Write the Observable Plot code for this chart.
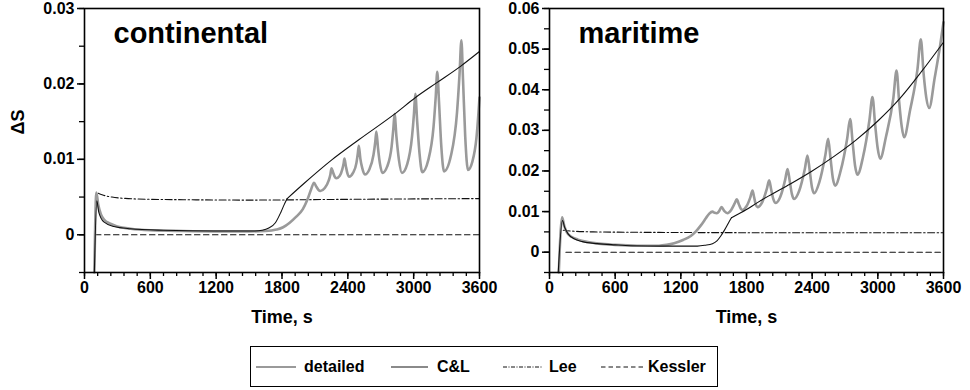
<!DOCTYPE html>
<html>
<head>
<meta charset="utf-8">
<script src="https://cdn.jsdelivr.net/npm/d3@7"></script>
<script src="https://cdn.jsdelivr.net/npm/@observablehq/plot@0.6"></script>
<style>
  body { margin: 0; background: #fff; font-family: "Liberation Sans", Arial, sans-serif; }
  #wrap { position: relative; width: 970px; height: 390px; background: #fff; overflow: hidden; }
  .panel { position: absolute; top: 0; }
  #legend { position: absolute; left: 250px; top: 346px; width: 468px; height: 41px; border: 1px solid #000; box-sizing: border-box; }
  .li { position: absolute; top: 0; height: 39px; }
  .lt { position: absolute; top: 10px; font-size: 16px; font-weight: bold; line-height: 20px; white-space: nowrap; color: #000; }
</style>
</head>
<body>
<div id="wrap">
  <div id="left" class="panel" style="left:0px"></div>
  <div id="right" class="panel" style="left:485px"></div>
  <div id="legend"></div>
</div>
<script>
// ---------- DATA ----------
const xTicks = [0, 600, 1200, 1800, 2400, 3000, 3600];
const yTicksCont = [0, 0.01, 0.02, 0.03];
const yTicksMar = [0, 0.01, 0.02, 0.03, 0.04, 0.05, 0.06];
const panelTitles = ["continental", "maritime"];
const legendLabels = ["detailed", "C&L", "Lee", "Kessler"];

// continental: detailed
const contDetT = [90,108,125,150,180,230,300,420,600,900,1200,1500,1650,1750,1810,1870,1930,1990,2030,2065,2092,2112,2130,2150,2190,2226,2241,2251,2265,2280,2295,2325,2350,2362,2369,2382,2397,2412,2447,2478,2491,2500,2514,2532,2555,2597,2634,2650,2660,2675,2693,2715,2760,2799,2815,2826,2843,2865,2893,2942,2985,3003,3015,3032,3054,3078,3133,3181,3201,3215,3231,3252,3277,3340,3395,3418,3435,3450,3470,3495,3535,3572,3600];
const contDetV = [-0.005,0.0056,0.0040,0.0027,0.0020,0.0015,0.0011,0.0008,0.0006,0.0005,0.00045,0.00045,0.0005,0.0007,0.0010,0.0016,0.0024,0.0034,0.0046,0.0060,0.0069,0.0064,0.0060,0.0058,0.0062,0.0072,0.0080,0.0088,0.0083,0.0077,0.0075,0.0078,0.0087,0.0095,0.0101,0.0091,0.0081,0.0077,0.0082,0.0095,0.0108,0.0118,0.0101,0.0088,0.0080,0.0087,0.0106,0.0123,0.0137,0.0115,0.0094,0.0082,0.0091,0.0117,0.0141,0.0160,0.0130,0.0100,0.0082,0.0094,0.0130,0.0161,0.0187,0.0150,0.0107,0.0083,0.0099,0.0143,0.0183,0.0216,0.0176,0.0117,0.0084,0.0105,0.0162,0.0213,0.0258,0.0205,0.0130,0.0086,0.0097,0.0128,0.0182];
// continental: C&L (kink at 1847 s)
const contClT = [90,112,130,176,267,419,720,1177,1550,1620,1680,1740,1790,1820,1847,2000,2251,2500,2825,3017,3215,3433,3600];
const contClV = [-0.005,0.0045,0.0030,0.0017,0.0011,0.0008,0.0006,0.0005,0.0005,0.0006,0.0009,0.0016,0.0030,0.0040,0.0048,0.0068,0.0099,0.0126,0.0160,0.0182,0.0202,0.0224,0.0243];
const contClKink = 1847;
// continental: Lee
const contLeeT = [125,160,250,400,600,900,1500,2400,3600];
const contLeeV = [0.0055,0.0053,0.0050,0.0048,0.0047,0.00465,0.0046,0.0047,0.0048];
// continental: Kessler
const contKesT = [100,3600];
const contKesV = [0,0];

// maritime: detailed
const marDetT = [85,115,135,160,200,260,350,450,600,800,1000,1070,1139,1220,1291,1340,1383,1430,1460,1489,1508,1529,1550,1572,1598,1626,1660,1692,1711,1730,1748,1764,1800,1835,1855,1870,1885,1900,1945,1985,2007,2025,2046,2068,2110,2153,2175,2195,2215,2235,2280,2333,2357,2378,2398,2418,2465,2521,2546,2568,2589,2610,2660,2720,2747,2770,2792,2814,2865,2923,2951,2975,2998,3021,3075,3142,3171,3195,3218,3240,3295,3362,3393,3418,3443,3469,3520,3570,3600];
const marDetV = [-0.005,0.0086,0.0065,0.0048,0.0038,0.0031,0.0025,0.0021,0.0018,0.0016,0.0016,0.0018,0.0022,0.0030,0.0040,0.0052,0.0066,0.0084,0.0095,0.0100,0.0097,0.0096,0.0101,0.0111,0.0101,0.0096,0.0104,0.0120,0.0130,0.0118,0.0107,0.0104,0.0113,0.0135,0.0152,0.0135,0.0117,0.0111,0.0124,0.0155,0.0177,0.0155,0.0130,0.0121,0.0137,0.0178,0.0205,0.0175,0.0143,0.0131,0.0150,0.0205,0.0238,0.0200,0.0160,0.0145,0.0172,0.0240,0.0279,0.0230,0.0182,0.0164,0.0200,0.0280,0.0328,0.0270,0.0213,0.0191,0.0235,0.0325,0.0382,0.0315,0.0257,0.0230,0.0285,0.0380,0.0447,0.0370,0.0310,0.0283,0.0350,0.0450,0.0524,0.0440,0.0380,0.0355,0.0430,0.0510,0.0566];
// maritime: C&L (kink at 1663 s)
const marClT = [80,118,140,170,225,300,438,600,743,1047,1352,1420,1489,1530,1565,1600,1635,1663,1800,1900,2000,2200,2400,2600,2800,3000,3200,3400,3600];
const marClV = [-0.005,0.0078,0.0060,0.0045,0.0033,0.0026,0.0021,0.0018,0.0016,0.0015,0.0015,0.0017,0.0021,0.0028,0.0040,0.0055,0.0072,0.0085,0.0105,0.0122,0.0138,0.0168,0.0200,0.0236,0.0276,0.0323,0.0378,0.0445,0.0517];
const marClKink = 1663;
// maritime: Lee
const marLeeT = [125,200,400,800,2000,3600];
const marLeeV = [0.0054,0.0052,0.0050,0.0049,0.0048,0.0048];
// maritime: Kessler
const marKesT = [150,3600];
const marKesV = [0,0];

// ---------- STYLES ----------
const GRAY = "#9a9a9a";
const BLACK = "#111";
const LEE_DASH = "7,2.5,1.5,2.5";
const KES_DASH = "5.5,3.5";

const zip = (ts, vs) => ts.map((t, i) => ({t, v: vs[i]}));
// split a series into two pieces that share the kink point, so the kink stays sharp
const splitAt = (rows, k) => [
  ...rows.filter(d => d.t <= k).map(d => ({...d, seg: 0})),
  ...rows.filter(d => d.t >= k).map(d => ({...d, seg: 1}))
];
const fmt = d => d === 0 ? "0" : d3.format(".2f")(d);

function panel({det, cl, lee, kes, yDomain, yTicks, title, width, marginLeft, marginRight, yLabel}) {
  const minorY = d3.ticks(yDomain[0], yDomain[1], Math.round((yDomain[1] - yDomain[0]) / 0.005));
  const minorX = d3.range(0, 3601, 120);
  const marks = [
    Plot.line(kes, {x: "t", y: "v", stroke: BLACK, strokeWidth: 1.1, strokeDasharray: KES_DASH}),
    Plot.line(lee, {x: "t", y: "v", stroke: BLACK, strokeWidth: 1.1, strokeDasharray: LEE_DASH, curve: "monotone-x"}),
    Plot.line(det, {x: "t", y: "v", stroke: GRAY, strokeWidth: 2.6, curve: "monotone-x"}),
    Plot.line(cl, {x: "t", y: "v", z: "seg", stroke: BLACK, strokeWidth: 1.1, curve: "monotone-x"}),
    Plot.frame({stroke: "#000", strokeWidth: 1.6}),
    Plot.axisX({ticks: minorX, tickSize: 4, tickFormat: () => "", label: null, strokeWidth: 1.3}),
    Plot.axisX({ticks: xTicks, tickSize: 7, tickPadding: 2, tickFormat: d => String(d), fontSize: 16, label: null, strokeWidth: 1.5}),
    Plot.axisY({ticks: minorY, tickSize: 5, tickFormat: () => "", label: null, strokeWidth: 1.3}),
    Plot.axisY({ticks: yTicks, tickSize: 7, tickPadding: 3, tickFormat: fmt, fontSize: 16, label: null, strokeWidth: 1.5}),
    Plot.text([title], {frameAnchor: "top-left", dx: 29, dy: 25, fontSize: 29, textAnchor: "start", lineAnchor: "middle", fill: "#000"}),
    Plot.text(["Time, s"], {frameAnchor: "bottom", dy: 45, fontSize: 18, lineAnchor: "middle", fill: "#000"})
  ];
  if (yLabel) marks.push(Plot.text([yLabel], {frameAnchor: "left", dx: -66, dy: -6, rotate: -90, fontSize: 18, lineAnchor: "middle", fill: "#000"}));
  return Plot.plot({
    width, height: 330,
    marginLeft, marginRight, marginTop: 8, marginBottom: 58,
    x: {domain: [0, 3600]},
    y: {domain: yDomain},
    style: {fontFamily: "'Liberation Sans', Arial, sans-serif", fontWeight: "bold", background: "transparent", overflow: "visible", color: "#000"},
    marks
  });
}

document.getElementById("left").appendChild(panel({
  det: zip(contDetT, contDetV), cl: splitAt(zip(contClT, contClV), contClKink), lee: zip(contLeeT, contLeeV), kes: zip(contKesT, contKesV),
  yDomain: [-0.005, 0.03], yTicks: yTicksCont, title: panelTitles[0],
  width: 485, marginLeft: 84, marginRight: 6, yLabel: "ΔS"
}));
document.getElementById("right").appendChild(panel({
  det: zip(marDetT, marDetV), cl: splitAt(zip(marClT, marClV), marClKink), lee: zip(marLeeT, marLeeV), kes: zip(marKesT, marKesV),
  yDomain: [-0.005, 0.06], yTicks: yTicksMar, title: panelTitles[1],
  width: 485, marginLeft: 64, marginRight: 27, yLabel: null
}));

// ---------- LEGEND ----------
const legendStyles = [
  {stroke: GRAY, width: 2.2, dash: null, x0: 5, x1: 45, tx: 53},
  {stroke: "#8a8a8a", width: 2, dash: null, x0: 140, x1: 177, tx: 186},
  {stroke: BLACK, width: 1, dash: "4,1.5,1,1.5", x0: 252, x1: 292, tx: 298},
  {stroke: BLACK, width: 1, dash: "4.5,3", x0: 350, x1: 392, tx: 397}
];
const legend = document.getElementById("legend");
legendLabels.forEach((lab, i) => {
  const s = legendStyles[i];
  const svg = document.createElementNS("http://www.w3.org/2000/svg", "svg");
  svg.setAttribute("width", s.x1 - s.x0);
  svg.setAttribute("height", 39);
  svg.setAttribute("class", "li");
  svg.style.left = s.x0 + "px";
  const ln = document.createElementNS("http://www.w3.org/2000/svg", "line");
  ln.setAttribute("x1", 0); ln.setAttribute("x2", s.x1 - s.x0);
  ln.setAttribute("y1", 20); ln.setAttribute("y2", 20);
  ln.setAttribute("stroke", s.stroke); ln.setAttribute("stroke-width", s.width);
  if (s.dash) ln.setAttribute("stroke-dasharray", s.dash);
  svg.appendChild(ln);
  legend.appendChild(svg);
  const t = document.createElement("div");
  t.className = "lt";
  t.style.left = s.tx + "px";
  t.textContent = lab;
  legend.appendChild(t);
});
</script>
</body>
</html>
